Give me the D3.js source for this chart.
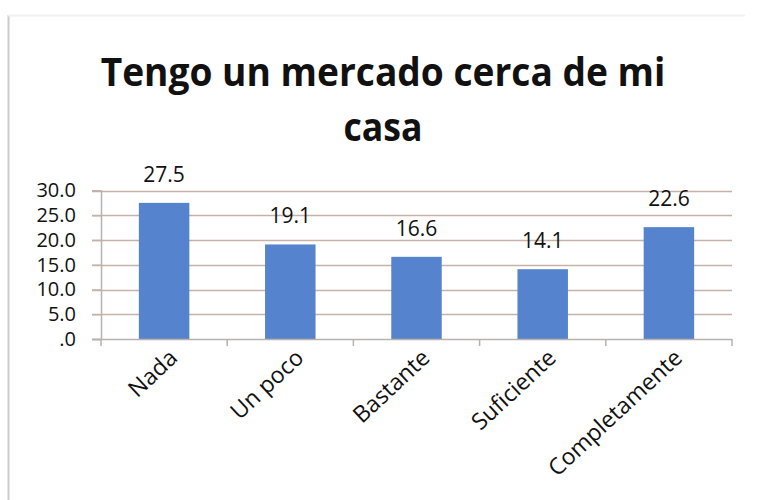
<!DOCTYPE html>
<html lang="es">
<head>
  <meta charset="UTF-8">
  <title>Tengo un mercado cerca de mi casa</title>
  <script src="https://d3js.org/d3.v7.min.js"></script>
  <style>
    body { margin: 0; background: #fff; }
    svg { display: block; }
    text { font-family: "Open Sans", sans-serif; fill: #111; }
  </style>
</head>
<body>
  <svg id="chart"></svg>
  <script>
    // datos
    const categorias = ["Nada", "Un poco", "Bastante", "Suficiente", "Completamente"];
    const valores = [27.5, 19.1, 16.6, 14.1, 22.6];
    const ticksY = [0, 5, 10, 15, 20, 25, 30];
    const titulo = ["Tengo un mercado cerca de mi", "casa"];

    const W = 759, H = 500;
    const plot = {left: 101, right: 732, top: 190.5, bottom: 339};

    const svg = d3.select("#chart").attr("width", W).attr("height", H);

    // marco
    svg.append("line")
      .attr("x1", 8.5).attr("x2", 8.5).attr("y1", 15).attr("y2", H)
      .attr("stroke", "#cfcaca").attr("stroke-width", 2);
    svg.append("line")
      .attr("x1", 8).attr("x2", 745).attr("y1", 15.5).attr("y2", 15.5)
      .attr("stroke", "#f2f0f0").attr("stroke-width", 2);

    // escalas
    const x = d3.scaleBand()
      .domain(categorias)
      .range([plot.left, plot.right])
      .paddingInner(0.6)
      .paddingOuter(0.3);

    const y = d3.scaleLinear()
      .domain([0, 30])
      .range([plot.bottom, plot.top]);

    // lineas de cuadricula
    svg.append("g")
      .selectAll("line")
      .data(ticksY.slice(1))
      .join("line")
      .attr("x1", plot.left - 9).attr("x2", plot.right)
      .attr("y1", d => Math.round(y(d)) + 0.5)
      .attr("y2", d => Math.round(y(d)) + 0.5)
      .attr("stroke", "#c6b2a8").attr("stroke-width", 1.5);

    // eje y
    const yAxis = d3.axisLeft(y)
      .tickValues(ticksY)
      .tickSize(9)
      .tickPadding(16)
      .tickFormat(d => d === 0 ? ".0" : d.toFixed(1));
    const gy = svg.append("g")
      .attr("transform", `translate(${plot.left},0)`)
      .call(yAxis);
    gy.select(".domain").attr("stroke", "#b9b0b0").attr("stroke-width", 1.5);
    gy.selectAll(".tick line").attr("stroke", "#c6b2a8").attr("stroke-width", 1.5);
    gy.selectAll(".tick text")
      .attr("font-size", 20)
      .attr("font-family", "Open Sans, sans-serif")
      .attr("fill", "#111");

    // barras
    svg.append("g")
      .selectAll("rect")
      .data(valores)
      .join("rect")
      .attr("x", (d, i) => x(categorias[i]))
      .attr("y", d => y(d))
      .attr("width", x.bandwidth())
      .attr("height", d => y(0) - y(d))
      .attr("fill", "#5683cd");

    // eje x
    const gx = svg.append("g")
      .attr("transform", `translate(0,${plot.bottom})`);
    gx.append("line")
      .attr("x1", plot.left - 9).attr("x2", plot.right)
      .attr("y1", 0.5).attr("y2", 0.5)
      .attr("stroke", "#b9b0b0").attr("stroke-width", 1.5);
    const bordes = categorias.map(c => x(c) - x.step() * x.paddingInner() / 2).concat([plot.right]);
    bordes[0] = plot.left;
    gx.selectAll(".borde")
      .data(bordes)
      .join("line")
      .attr("class", "borde")
      .attr("x1", d => d).attr("x2", d => d)
      .attr("y1", 0).attr("y2", 7)
      .attr("stroke", "#b9b0b0").attr("stroke-width", 1.5);

    gx.selectAll(".cat")
      .data(categorias)
      .join("text")
      .attr("class", "cat")
      .attr("font-size", 23)
      .attr("text-anchor", "end")
      .attr("transform", d => `translate(${x(d) + x.bandwidth() / 2 + 3},${8}) rotate(-43)`)
      .attr("dy", "0.75em")
      .text(d => d);

    // etiquetas de datos
    svg.append("g")
      .selectAll("text")
      .data(valores)
      .join("text")
      .attr("x", (d, i) => x(categorias[i]) + x.bandwidth() / 2)
      .attr("y", d => y(d) - 21)
      .attr("text-anchor", "middle")
      .attr("font-size", 21)
      .text(d => d.toFixed(1));

    // titulo
    const anchos = [565, 79];
    const baseY = [86, 141];
    const cx = 383;
    titulo.forEach((t, i) => {
      const el = svg.append("text")
        .attr("x", 0).attr("y", 0)
        .attr("font-size", 40)
        .attr("font-weight", "bold")
        .attr("text-anchor", "middle")
        .text(t);
      const w = el.node().getComputedTextLength();
      const sx = anchos[i] / w;
      el.attr("transform", `translate(${cx},${baseY[i]}) scale(${sx},1)`);
    });
  </script>
</body>
</html>
